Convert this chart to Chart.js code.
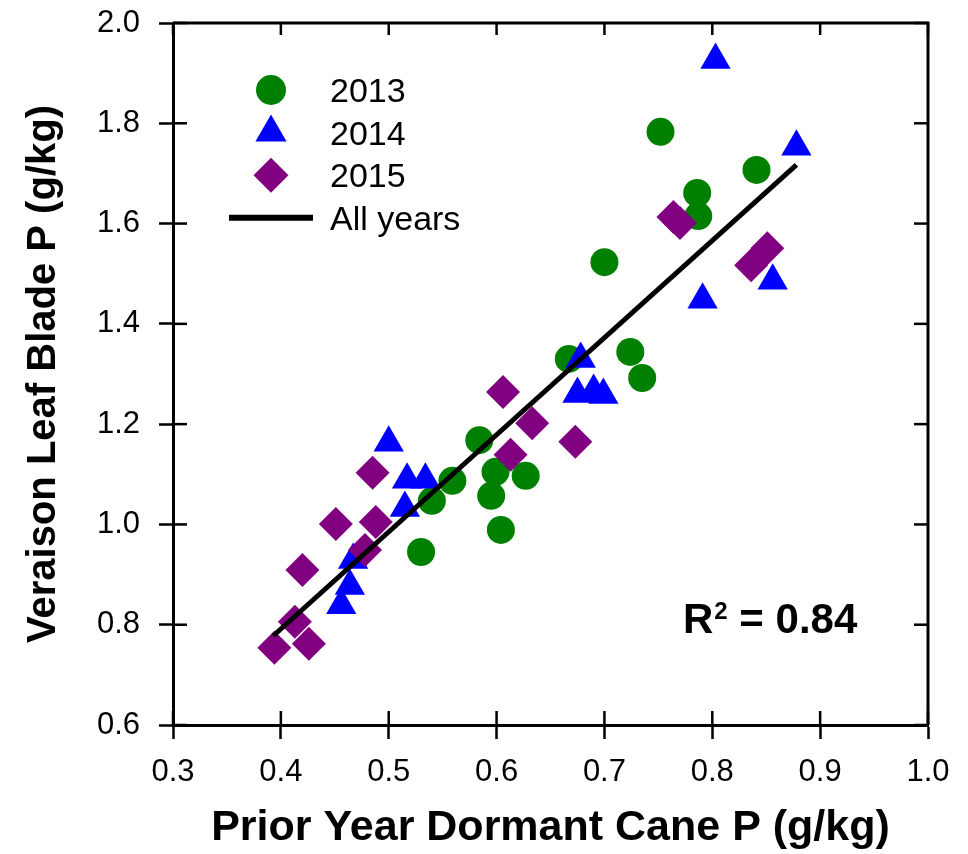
<!DOCTYPE html>
<html>
<head>
<meta charset="utf-8">
<title>Veraison Leaf Blade P vs Prior Year Dormant Cane P</title>
<script src="https://cdn.jsdelivr.net/npm/chart.js"></script>
<style>
  html, body { margin: 0; padding: 0; background: #fff; }
  #wrap { width: 968px; height: 854px; }
</style>
</head>
<body>
<div id="wrap"><canvas id="grafico"></canvas></div>
<script>
// dati
var anni = ['2013', '2014', '2015', 'All years'];

var x2013 = [0.530, 0.540, 0.559, 0.584, 0.595, 0.599, 0.604, 0.627, 0.667, 0.700, 0.724, 0.735, 0.752, 0.786, 0.787, 0.841];
var y2013 = [0.945, 1.047, 1.087, 1.168, 1.057, 1.105, 0.989, 1.097, 1.330, 1.523, 1.344, 1.292, 1.783, 1.661, 1.615, 1.707];

var x2014 = [0.500, 0.517, 0.534, 0.515, 0.467, 0.464, 0.456, 0.678, 0.675, 0.690, 0.699, 0.803, 0.878, 0.791, 0.856];
var y2014 = [1.163, 1.089, 1.089, 1.033, 0.929, 0.877, 0.839, 1.330, 1.260, 1.266, 1.258, 1.926, 1.753, 1.448, 1.486];

var x2015 = [0.485, 0.451, 0.488, 0.478, 0.420, 0.413, 0.394, 0.426, 0.606, 0.633, 0.673, 0.613, 0.764, 0.770, 0.851, 0.836];
var y2015 = [1.103, 1.001, 1.005, 0.949, 0.909, 0.806, 0.754, 0.762, 1.264, 1.202, 1.165, 1.139, 1.613, 1.601, 1.551, 1.517];

var xFit = [0.393, 0.878];
var yFit = [0.778, 1.717];

var xTicks = [0.3, 0.4, 0.5, 0.6, 0.7, 0.8, 0.9, 1.0];
var yTicks = [0.6, 0.8, 1.0, 1.2, 1.4, 1.6, 1.8, 2.0];

var r2 = '0.84';

var font = "'Liberation Sans', Arial, Helvetica, sans-serif";
Chart.defaults.font.family = font;
Chart.defaults.color = '#000';

function punti(xs, ys) {
    var out = [];
    for (var i = 0; i < xs.length; i++) {
        out.push({ x: xs[i], y: ys[i] });
    }
    return out;
}

function linea(ctx, x1, y1, x2, y2) {
    ctx.beginPath();
    ctx.moveTo(x1, y1);
    ctx.lineTo(x2, y2);
    ctx.stroke();
}

// cornice superiore/destra e tacche interne
var cornice = {
    id: 'cornice',
    afterDatasetsDraw: function (chart) {
        var ctx = chart.ctx;
        var a = chart.chartArea;
        var sx = chart.scales.x;
        var sy = chart.scales.y;
        ctx.save();
        ctx.strokeStyle = '#000';
        ctx.lineWidth = 3;
        ctx.beginPath();
        ctx.moveTo(a.left, a.top);
        ctx.lineTo(a.right, a.top);
        ctx.lineTo(a.right, a.bottom);
        ctx.stroke();
        ctx.lineWidth = 2.5;
        xTicks.forEach(function (v) {
            var px = sx.getPixelForValue(v);
            linea(ctx, px, a.bottom, px, a.bottom - 14);
            linea(ctx, px, a.top, px, a.top + 12);
        });
        yTicks.forEach(function (v) {
            var py = sy.getPixelForValue(v);
            linea(ctx, a.left, py, a.left + 14, py);
            linea(ctx, a.right, py, a.right - 14, py);
        });
        ctx.restore();
    }
};

// legenda dentro l'area del grafico
var legenda = {
    id: 'legenda',
    afterDatasetsDraw: function (chart) {
        var ctx = chart.ctx;
        var a = chart.chartArea;
        var cx = a.left + 98;
        ctx.save();
        chart.data.datasets.forEach(function (ds, i) {
            var cy = a.top + 67 + i * 42.6;
            if (ds.showLine) {
                ctx.strokeStyle = ds.borderColor;
                ctx.lineWidth = 6;
                linea(ctx, cx - 42, cy, cx + 42, cy);
            } else {
                ctx.fillStyle = ds.backgroundColor;
                ctx.strokeStyle = ds.backgroundColor;
                Chart.helpers.drawPoint(ctx, {
                    pointStyle: ds.pointStyle,
                    radius: ds.legendRadius,
                    rotation: 0,
                    borderWidth: 0
                }, cx, cy);
            }
            ctx.fillStyle = '#000';
            ctx.font = "34px " + font;
            ctx.textAlign = 'left';
            ctx.textBaseline = 'alphabetic';
            ctx.fillText(ds.label, a.left + 157, cy + 12);
        });
        ctx.restore();
    }
};

// testo R^2
var erre = {
    id: 'erre',
    afterDatasetsDraw: function (chart) {
        var ctx = chart.ctx;
        var a = chart.chartArea;
        var x = a.right - 245;
        var y = a.bottom - 92;
        ctx.save();
        ctx.fillStyle = '#000';
        ctx.textAlign = 'left';
        ctx.textBaseline = 'alphabetic';
        ctx.font = "bold 42px " + font;
        ctx.fillText('R', x, y);
        x += ctx.measureText('R').width + 1;
        ctx.font = "bold 24px " + font;
        ctx.fillText('2', x, y - 14);
        x += ctx.measureText('2').width;
        ctx.font = "bold 42px " + font;
        ctx.fillText(' = ' + r2, x, y);
        ctx.restore();
    }
};

var ctx = document.getElementById('grafico');
var grafico = new Chart(ctx, {
    type: 'scatter',
    data: {
        datasets: [{
            label: anni[0],
            data: punti(x2013, y2013),
            pointStyle: 'circle',
            pointRadius: 14,
            legendRadius: 15,
            backgroundColor: '#008000',
            borderColor: '#008000',
            borderWidth: 0,
            order: 4
        },
        {
            label: anni[1],
            data: punti(x2014, y2014),
            pointStyle: 'triangle',
            pointRadius: 17.5,
            legendRadius: 18,
            backgroundColor: '#0000ff',
            borderColor: '#0000ff',
            borderWidth: 0,
            order: 3
        },
        {
            label: anni[2],
            data: punti(x2015, y2015),
            pointStyle: 'rectRot',
            pointRadius: 17,
            legendRadius: 17.5,
            backgroundColor: '#800080',
            borderColor: '#800080',
            borderWidth: 0,
            order: 2
        },
        {
            label: anni[3],
            data: punti(xFit, yFit),
            showLine: true,
            pointRadius: 0,
            borderColor: '#000',
            backgroundColor: '#000',
            borderWidth: 5,
            order: 1
        }]
    },
    options: {
        responsive: true,
        maintainAspectRatio: false,
        animation: false,
        events: [],
        layout: { padding: { top: 23, right: 40, left: 0, bottom: 0 } },
        plugins: {
            legend: { display: false },
            tooltip: { enabled: false }
        },
        scales: {
            x: {
                type: 'linear',
                min: 0.3,
                max: 1.0,
                afterBuildTicks: function (s) {
                    s.ticks = xTicks.map(function (v) { return { value: v }; });
                },
                afterFit: function (s) {
                    s.height = 129;
                    s.paddingLeft = 0;
                    s.paddingRight = 0;
                },
                ticks: {
                    padding: 15,
                    font: { size: 31 },
                    callback: function (v) { return v.toFixed(1); }
                },
                grid: {
                    drawOnChartArea: false,
                    drawTicks: true,
                    tickLength: 14,
                    tickWidth: 2.5,
                    tickColor: '#000'
                },
                border: { display: true, color: '#000', width: 3 },
                title: {
                    display: true,
                    text: 'Prior Year Dormant Cane P (g/kg)',
                    font: { size: 43, weight: 'bold' },
                    padding: { top: 0, bottom: 0 }
                }
            },
            y: {
                type: 'linear',
                min: 0.6,
                max: 2.0,
                afterBuildTicks: function (s) {
                    s.ticks = yTicks.map(function (v) { return { value: v }; });
                },
                afterFit: function (s) {
                    s.width = 173;
                    s.paddingTop = 0;
                    s.paddingBottom = 0;
                },
                ticks: {
                    padding: 19,
                    font: { size: 31 },
                    callback: function (v) { return v.toFixed(1); }
                },
                grid: {
                    drawOnChartArea: false,
                    drawTicks: true,
                    tickLength: 14,
                    tickWidth: 2.5,
                    tickColor: '#000'
                },
                border: { display: true, color: '#000', width: 3 },
                title: {
                    display: true,
                    text: 'Veraison Leaf Blade P (g/kg)',
                    font: { size: 40, weight: 'bold' },
                    padding: { top: 20, bottom: 0 }
                }
            }
        }
    },
    plugins: [cornice, legenda, erre]
});
</script>
</body>
</html>
